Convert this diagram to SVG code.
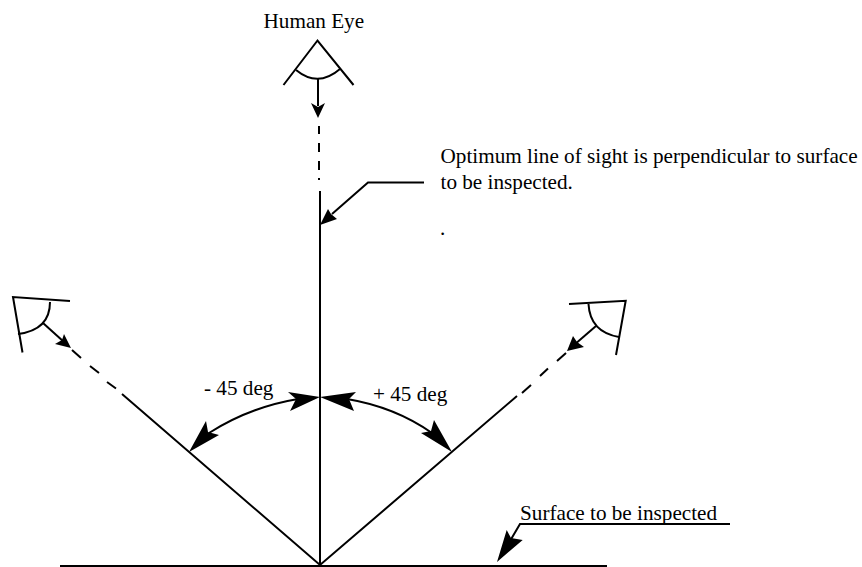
<svg xmlns="http://www.w3.org/2000/svg" width="862" height="567" viewBox="0 0 862 567">
<style>
text{font-family:"Liberation Serif","Times New Roman",serif;font-size:21.2px;fill:#000}
.l{fill:none;stroke:#000;stroke-width:2}
.h{fill:#000;stroke:none}
</style>
<rect width="862" height="567" fill="#fff"/>
<g id="connectors">
<path class="l" d="M60 566H607"/>
<path class="l" d="M320 191V565"/>
<path class="l" d="M319 126V134M319 143V152M319 161V170M319 178V180"/>
<path class="l" d="M122 394L320 565L517 396"/>
<path class="l" d="M72 350L81 358M90 366L99 373M107 382L116 388.5"/>
<path class="l" d="M557 361L566 353M540 376L548 368.5M522 393L531 385"/>
<path class="l" d="M298 399Q250 407 209 433"/>
<path class="l" d="M347 399Q395 407 432 433"/>
<path class="l" d="M424 182.5H368L332 214"/>
<path class="l" d="M730 524H520L510 541"/>
<polygon class="h" points="320,397 288,392 296,399 290,411"/>
<polygon class="h" points="189,452 206,421 208,432 219,435"/>
<polygon class="h" points="320,397 356,392 349,399 354,411"/>
<polygon class="h" points="452,452 434,420 431,431 421,433"/>
<polygon class="h" points="320,225 328,209 331,214 337,219"/>
<polygon class="h" points="497,562 506.7,530 511,538 522.7,540"/>
</g>
<g id="eye-top">
<path class="l" d="M283.5 85L317.5 40.5L353.5 85"/>
<path class="l" d="M296 70Q318 88 340 69"/>
<path class="l" d="M318 79V106"/>
<polygon class="h" points="318,118 311,103 318,107 325,103"/>
</g>
<g id="eye-left">
<path class="l" d="M70 301L13 297L22.5 352.5"/>
<path class="l" d="M50 302Q50 330 18 334"/>
<path class="l" d="M43 323L64 342"/>
<polygon class="h" points="71,348 55,344 62,340 64,334"/>
</g>
<g id="eye-right">
<path class="l" d="M569 304L625.7 300.7L616 355"/>
<path class="l" d="M588.5 304Q590 332 619 337"/>
<path class="l" d="M596 326L574 345"/>
<polygon class="h" points="567,351 573,336 577,342 584,347"/>
</g>
<g id="labels">
<text x="263.5" y="28">Human Eye</text>
<text x="440.5" y="163">Optimum line of sight is perpendicular to surface</text>
<text x="440.5" y="189">to be inspected.</text>
<text x="440" y="235">.</text>
<text x="204" y="395">- 45 deg</text>
<text x="373" y="401">+ 45 deg</text>
<text x="520" y="520">Surface to be inspected</text>
</g>
</svg>
